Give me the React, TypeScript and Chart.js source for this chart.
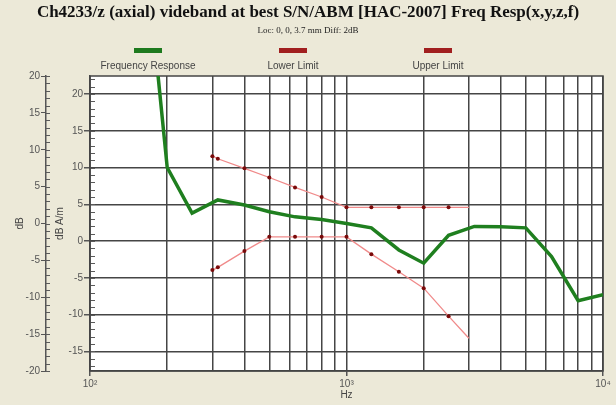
import React, { useEffect, useRef } from "react";
import { Chart, registerables } from "chart.js";
Chart.register(...registerables);

const responseFreqs = [180, 200, 250, 315, 400, 500, 630, 800, 1000, 1250, 1600, 2000, 2500, 3150, 4000, 5000, 6300, 8000, 10000];
const responseDb = [26, 10.0, 3.8, 5.6, 4.9, 4.0, 3.3, 2.95, 2.4, 1.8, -1.2, -3.0, 0.8, 2.0, 1.95, 1.8, -2.1, -8.1, -7.3];
const limitFreqs = [300, 315, 400, 500, 630, 800, 1000, 1250, 1600, 2000, 2500, 3000];
const upperLimit = [11.55, 11.2, 9.9, 8.65, 7.3, 6.0, 4.6, 4.6, 4.6, 4.6, 4.6, 4.6];
const lowerLimit = [-3.94, -3.57, -1.36, 0.58, 0.58, 0.58, 0.58, -1.77, -4.17, -6.4, -10.2, -13.2];
const limitMarkers = [2, 2, 2, 2, 2, 2, 2, 2, 2, 2, 2, 0];

const xTickValues = [100, 200, 300, 400, 500, 600, 700, 800, 900, 1000, 2000, 3000, 4000, 5000, 6000, 7000, 8000, 9000, 10000];
const xTickLabels: Record<number, string> = { 100: "10²", 1000: "10³", 10000: "10⁴" };
const yTickValues = [-15, -10, -5, 0, 5, 10, 15, 20];
const y2TickValues = [-20, -15, -10, -5, 0, 5, 10, 15, 20];
const seriesLabels = ["Frequency Response", "Lower Limit", "Upper Limit"];
const legendColors = ["#1e7a1e", "#a11f1f", "#a11f1f"];

const titleText = "Ch4233/z (axial) videband at best S/N/ABM [HAC-2007] Freq Resp(x,y,z,f)";
const subtitleText = "Loc: 0, 0, 3.7 mm Diff: 2dB";

const SANS = "'Liberation Sans', Arial, sans-serif";
const SERIF = "'Liberation Serif', 'Times New Roman', serif";

const decorPlugin = {
  id: "decor",
  beforeDraw(chart: any) {
    const { ctx, chartArea: a } = chart;
    ctx.save();
    ctx.fillStyle = "#ffffff";
    ctx.fillRect(a.left, a.top, a.right - a.left, a.bottom - a.top);
    ctx.restore();
  },
  beforeDatasetsDraw(chart: any) {
    const { ctx, chartArea: a, scales } = chart;
    ctx.save();
    ctx.strokeStyle = "#5a5a5a";
    ctx.lineWidth = 1;
    const y = scales.y;
    for (let v = Math.ceil(y.min); v <= Math.floor(y.max); v++) {
      const py = Math.round(y.getPixelForValue(v)) + 0.5;
      ctx.beginPath();
      ctx.moveTo(a.left, py);
      ctx.lineTo(a.left + 5, py);
      ctx.stroke();
    }
    const y2 = scales.y2;
    for (let v = Math.ceil(y2.min); v <= Math.floor(y2.max); v++) {
      const py = Math.round(y2.getPixelForValue(v)) + 0.5;
      ctx.beginPath();
      ctx.moveTo(y2.right, py);
      ctx.lineTo(y2.right + 4, py);
      ctx.stroke();
    }
    ctx.strokeStyle = "#454545";
    ctx.lineWidth = 1.5;
    ctx.strokeRect(a.left, a.top, a.right - a.left, a.bottom - a.top);
    ctx.restore();
  },
  afterDraw(chart: any) {
    const { ctx } = chart;
    const centers = [148, 293, 438];
    ctx.save();
    chart.data.datasets.forEach((ds: any, i: number) => {
      const cx = centers[i];
      ctx.fillStyle = legendColors[i];
      ctx.fillRect(cx - 14, 48, 28, 5);
      ctx.fillStyle = "#444";
      ctx.font = `10px ${SANS}`;
      ctx.textAlign = "center";
      ctx.textBaseline = "middle";
      ctx.fillText(ds.label, cx, 66);
    });
    ctx.restore();
  },
};

export default function App() {
  const ref = useRef<HTMLCanvasElement | null>(null);
  useEffect(() => {
    document.body.style.margin = "0";
    document.body.style.background = "#ece9d8";
    const canvas = ref.current;
    if (!canvas) return;
    const chart = new Chart(canvas, {
      type: "line",
      data: {
        datasets: [
          {
            label: seriesLabels[0],
            data: responseFreqs.map((f, i) => ({ x: f, y: responseDb[i] })),
            borderColor: "#1f7f1f",
            borderWidth: 3.5,
            pointRadius: 0,
            yAxisID: "y",
          },
          {
            label: seriesLabels[1],
            data: limitFreqs.map((f, i) => ({ x: f, y: lowerLimit[i] })),
            borderColor: "#f08a8a",
            borderWidth: 1.3,
            pointRadius: limitMarkers,
            pointBackgroundColor: "#7a0a0a",
            pointBorderWidth: 0,
            yAxisID: "y",
          },
          {
            label: seriesLabels[2],
            data: limitFreqs.map((f, i) => ({ x: f, y: upperLimit[i] })),
            borderColor: "#f08a8a",
            borderWidth: 1.3,
            pointRadius: limitMarkers,
            pointBackgroundColor: "#7a0a0a",
            pointBorderWidth: 0,
            yAxisID: "y",
          },
        ],
      },
      options: {
        animation: false,
        responsive: false,
        layout: { padding: 0 },
        plugins: {
          legend: { display: false },
          tooltip: { enabled: false },
          title: {
            display: true,
            text: titleText,
            color: "#111",
            font: { family: SERIF, size: 17, weight: "bold" },
            padding: { top: 2, bottom: 3 },
          },
          subtitle: {
            display: true,
            text: subtitleText,
            color: "#222",
            font: { family: SERIF, size: 9 },
            padding: { top: 0, bottom: 39.8 },
          },
        },
        scales: {
          x: {
            type: "logarithmic",
            min: 100,
            max: 10000,
            position: "bottom",
            afterBuildTicks: (s: any) => {
              s.ticks = xTickValues.map((v) => ({ value: v }));
            },
            afterFit: (s: any) => {
              s.height = 34;
            },
            ticks: {
              autoSkip: false,
              maxRotation: 0,
              padding: 2,
              color: "#555",
              font: { family: SANS, size: 10 },
              callback: (v: any) => xTickLabels[Number(v)] || "",
            },
            grid: {
              color: "#454545",
              lineWidth: 1.5,
              drawTicks: true,
              tickLength: 5,
              tickColor: (c: any) => (c.tick && xTickLabels[c.tick.value] ? "#555" : "rgba(0,0,0,0)"),
            },
            border: { display: true, color: "#454545", width: 1.5 },
            title: {
              display: true,
              text: "Hz",
              color: "#444",
              font: { family: SANS, size: 10 },
              padding: { top: 0, bottom: 4 },
            },
          },
          y: {
            type: "linear",
            position: "left",
            weight: 0,
            min: -17.66,
            max: 22.45,
            afterBuildTicks: (s: any) => {
              s.ticks = yTickValues.map((v) => ({ value: v }));
            },
            afterFit: (s: any) => {
              s.width = 44;
            },
            ticks: {
              autoSkip: false,
              padding: 1,
              color: "#555",
              font: { family: SANS, size: 10 },
            },
            grid: {
              color: "#454545",
              lineWidth: 1.5,
              drawTicks: true,
              tickLength: 6,
              tickColor: "#555",
            },
            border: { display: true, color: "#454545", width: 1.5 },
            title: {
              display: true,
              text: "dB A/m",
              color: "#444",
              font: { family: SANS, size: 10 },
              padding: { top: 8, bottom: 0 },
            },
          },
          y2: {
            type: "linear",
            position: "left",
            weight: 10,
            min: -20,
            max: 20,
            afterBuildTicks: (s: any) => {
              s.ticks = y2TickValues.map((v) => ({ value: v }));
            },
            afterFit: (s: any) => {
              s.width = 46;
            },
            ticks: {
              autoSkip: false,
              padding: 1,
              color: "#555",
              font: { family: SANS, size: 10 },
            },
            grid: {
              drawOnChartArea: false,
              drawTicks: true,
              tickLength: 5,
              tickColor: "#555",
              lineWidth: 1,
            },
            border: { display: true, color: "#555", width: 1.5 },
            title: {
              display: true,
              text: "dB",
              color: "#444",
              font: { family: SANS, size: 10 },
              padding: { top: 14, bottom: 0 },
            },
          },
          yR: {
            type: "linear",
            position: "right",
            display: true,
            afterFit: (s: any) => {
              s.width = 13;
            },
            ticks: { display: false },
            grid: { display: false, drawOnChartArea: false, drawTicks: false },
            border: { display: false },
          },
        },
      },
      plugins: [decorPlugin],
    } as any);
    return () => chart.destroy();
  }, []);
  return (
    <div style={{ width: 616, height: 405, background: "#ece9d8" }}>
      <canvas ref={ref} width={616} height={405} style={{ display: "block" }} />
    </div>
  );
}
